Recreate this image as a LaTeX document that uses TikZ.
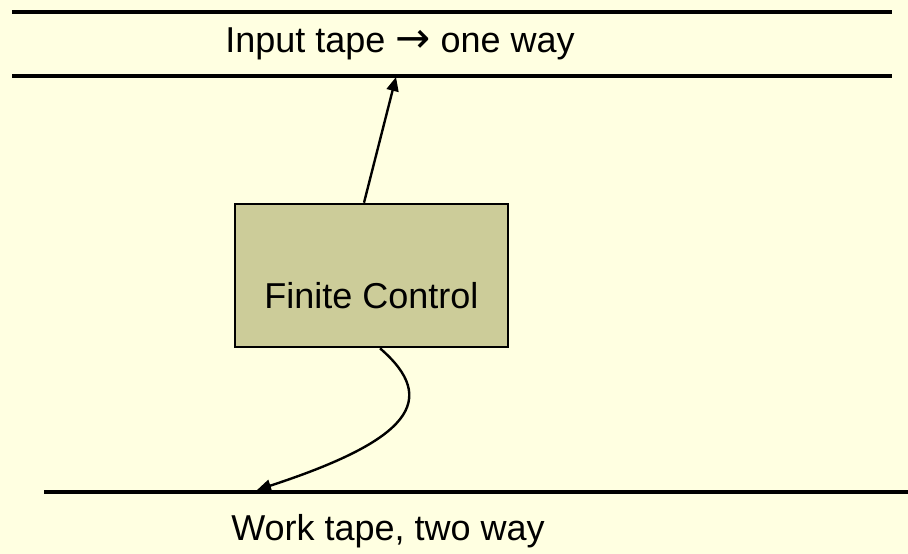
\documentclass[tikz,border=0pt]{standalone}
\usepackage{fontspec}
\setmainfont{Liberation Sans}
\newfontfamily\arrowfont{DejaVu Sans}
\usetikzlibrary{arrows.meta}

\definecolor{paper}{HTML}{FFFFE1}
\definecolor{khaki}{HTML}{CCCC99}

\begin{document}
\begin{tikzpicture}[x=1pt,y=-1pt,line width=2.4pt,>={Triangle[length=14pt,width=12pt]},
  tape/.style={line width=3.2pt},
  ctrlbox/.style={draw,fill=khaki,line width=2.6pt,minimum width=273pt,minimum height=143pt,inner sep=0pt},
  lbl/.style={font=\fontsize{36}{40}\selectfont,inner sep=0pt}]
% ---------- background ----------
\fill[paper] (0,0) rectangle (908,554);
\useasboundingbox (0,0) rectangle (908,554);
% ---------- input tape ----------
\draw[tape] (12,12) -- (892,12);
\draw[tape] (12,76) -- (892,76);
\node[lbl] (intape) at (400,44) {Input tape {\arrowfont\fontsize{42}{40}\selectfont →} one way};
\coordinate (inhead) at (396,77);
% ---------- finite control ----------
\node[ctrlbox] (fc) at (371.5,275.5) {};
\node[lbl] (fctext) at (371.5,296) {Finite Control};
% ---------- work tape ----------
\draw[tape] (44,492) -- (908,492);
\node[lbl] (worktape) at (388,531) {Work tape, two way};
\coordinate (workhead) at (257,490);
% ---------- heads ----------
\draw[->] (fc.north -| 364,0) -- (inhead);
\draw[->] (fc.south -| 380,0) .. controls (440,400) and (410,440) .. (workhead);
\end{tikzpicture}
\end{document}
